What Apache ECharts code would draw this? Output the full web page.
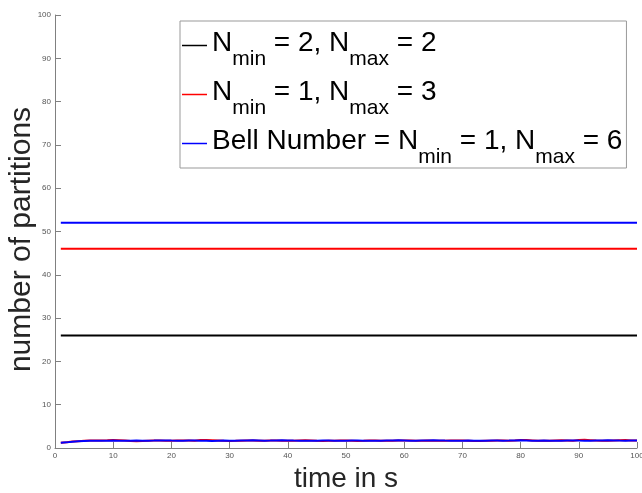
<!DOCTYPE html>
<html>
<head>
<meta charset="utf-8">
<script src="https://cdn.jsdelivr.net/npm/echarts@6/dist/echarts.min.js"></script>
<style>html,body{margin:0;padding:0;background:#fff;}#chart{width:642px;height:493px;}</style>
</head>
<body>
<div id="chart"></div>
<script>
// time axis (s)
var timeValues = [];
for (var t = 1; t <= 100; t++) timeValues.push(t);
var lineStart = 1, lineEnd = 100;

// constant partition counts
var constBlack = 26; // N_min = 2, N_max = 2
var constRed = 46;   // N_min = 1, N_max = 3
var constBlue = 52;  // Bell number, N_min = 1, N_max = 6

// measured number of partitions over time (near bottom)
var redMeasured = [
  1.2,1.32,1.48,1.58,1.66,1.72,1.75,1.74,1.78,1.84,
  1.8,1.72,1.6,1.58,1.64,1.7,1.74,1.72,1.7,1.68,
  1.72,1.76,1.74,1.7,1.82,1.86,1.8,1.74,1.68,1.64,
  1.66,1.7,1.74,1.72,1.68,1.7,1.74,1.72,1.68,1.66,
  1.7,1.74,1.78,1.74,1.66,1.62,1.66,1.7,1.74,1.72,
  1.68,1.64,1.66,1.72,1.74,1.7,1.66,1.68,1.72,1.76,
  1.72,1.68,1.7,1.74,1.7,1.66,1.68,1.72,1.76,1.74,
  1.7,1.64,1.6,1.66,1.7,1.74,1.72,1.68,1.76,1.86,
  1.82,1.76,1.7,1.66,1.7,1.74,1.78,1.76,1.7,1.84,
  1.88,1.8,1.72,1.66,1.7,1.74,1.78,1.82,1.76,1.72
];
var blueMeasured = [
  1.2,1.3,1.45,1.55,1.6,1.65,1.7,1.7,1.68,1.72,
  1.7,1.66,1.68,1.72,1.7,1.69,1.71,1.74,1.76,1.72,
  1.7,1.68,1.72,1.75,1.7,1.66,1.62,1.68,1.72,1.7,
  1.68,1.72,1.75,1.78,1.74,1.7,1.72,1.76,1.8,1.76,
  1.72,1.7,1.68,1.66,1.7,1.74,1.72,1.7,1.68,1.7,
  1.72,1.74,1.7,1.68,1.66,1.7,1.72,1.74,1.78,1.74,
  1.7,1.68,1.72,1.76,1.8,1.76,1.72,1.7,1.68,1.7,
  1.72,1.7,1.66,1.7,1.74,1.72,1.7,1.72,1.76,1.78,
  1.74,1.7,1.68,1.72,1.7,1.68,1.7,1.74,1.76,1.72,
  1.7,1.68,1.72,1.74,1.78,1.76,1.72,1.7,1.74,1.72
];

var xTicks = {min: 0, max: 100, interval: 10};
var yTicks = {min: 0, max: 100, interval: 10};

var seriesNames = ['black', 'red', 'blue'];
var legendRich = {
  black: '{n|N}{s|min}{n| = 2, N}{s|max}{n| = 2}',
  red: '{n|N}{s|min}{n| = 1, N}{s|max}{n| = 3}',
  blue: '{n|Bell Number = N}{s|min}{n| = 1, N}{s|max}{n| = 6}'
};

function pairs(xs, ys) { return xs.map(function (x, i) { return [x, ys[i]]; }); }
function flat(v) { return [[lineStart, v], [lineEnd, v]]; }

var FONT = '"Liberation Sans", Arial, Helvetica, sans-serif';
var chart = echarts.init(document.getElementById('chart'), null, {renderer: 'canvas'});
chart.setOption({
  animation: false,
  backgroundColor: '#ffffff',
  grid: {left: 55, right: 5, top: 15, bottom: 45, containLabel: false, outerBoundsMode: 'none'},
  xAxis: {
    type: 'value', min: xTicks.min, max: xTicks.max, interval: xTicks.interval,
    name: 'time in s', nameLocation: 'middle', nameGap: 17, nameMoveOverlap: false,
    nameTextStyle: {fontFamily: FONT, fontSize: 28, color: '#262626'},
    axisLine: {show: true, lineStyle: {color: '#808080', width: 1}},
    axisTick: {show: true, inside: true, length: 6, lineStyle: {color: '#808080'}},
    axisLabel: {fontFamily: FONT, fontSize: 8, color: '#555555', margin: 4, hideOverlap: false},
    splitLine: {show: false}
  },
  yAxis: {
    type: 'value', min: yTicks.min, max: yTicks.max, interval: yTicks.interval,
    name: 'number of partitions', nameLocation: 'middle', nameGap: 18, nameRotate: 90, nameMoveOverlap: false,
    nameTextStyle: {fontFamily: FONT, fontSize: 30, color: '#262626', padding: [0, 16, 0, 0]},
    axisLine: {show: true, lineStyle: {color: '#808080', width: 1}},
    axisTick: {show: true, inside: true, length: 6, lineStyle: {color: '#808080'}},
    axisLabel: {fontFamily: FONT, fontSize: 8, color: '#555555', margin: 4},
    splitLine: {show: false}
  },
  legend: {
    data: seriesNames,
    orient: 'vertical',
    left: 180, top: 21,
    padding: [0, 4, 0, 2],
    itemGap: 0,
    itemWidth: 25, itemHeight: 1.5,
    icon: 'rect',
    backgroundColor: '#ffffff',
    borderColor: '#999999', borderWidth: 1,
    selectedMode: false,
    formatter: function (name) { return legendRich[name]; },
    textStyle: {
      fontFamily: FONT, color: '#000000',
      rich: {
        n: {fontFamily: FONT, fontSize: 28, color: '#000000', lineHeight: 46, padding: [0, 0, 4, 0]},
        s: {fontFamily: FONT, fontSize: 21, color: '#000000', lineHeight: 46, padding: [28, 0, 0, 0]}
      }
    }
  },
  series: [
    {name: 'black', type: 'line', data: flat(constBlack), showSymbol: false, symbol: 'none',
     lineStyle: {color: '#000000', width: 2}, itemStyle: {color: '#000000'}, z: 3},
    {name: 'red', type: 'line', data: flat(constRed), showSymbol: false, symbol: 'none',
     lineStyle: {color: '#ff0000', width: 2}, itemStyle: {color: '#ff0000'}, z: 3},
    {name: 'blue', type: 'line', data: flat(constBlue), showSymbol: false, symbol: 'none',
     lineStyle: {color: '#0000ff', width: 2}, itemStyle: {color: '#0000ff'}, z: 3},
    {name: 'red measured', type: 'line', data: pairs(timeValues, redMeasured), showSymbol: false, symbol: 'none',
     lineStyle: {color: '#ff0000', width: 2}, z: 2},
    {name: 'blue measured', type: 'line', data: pairs(timeValues, blueMeasured), showSymbol: false, symbol: 'none',
     lineStyle: {color: '#0000ff', width: 2}, z: 3}
  ]
});
</script>
</body>
</html>
